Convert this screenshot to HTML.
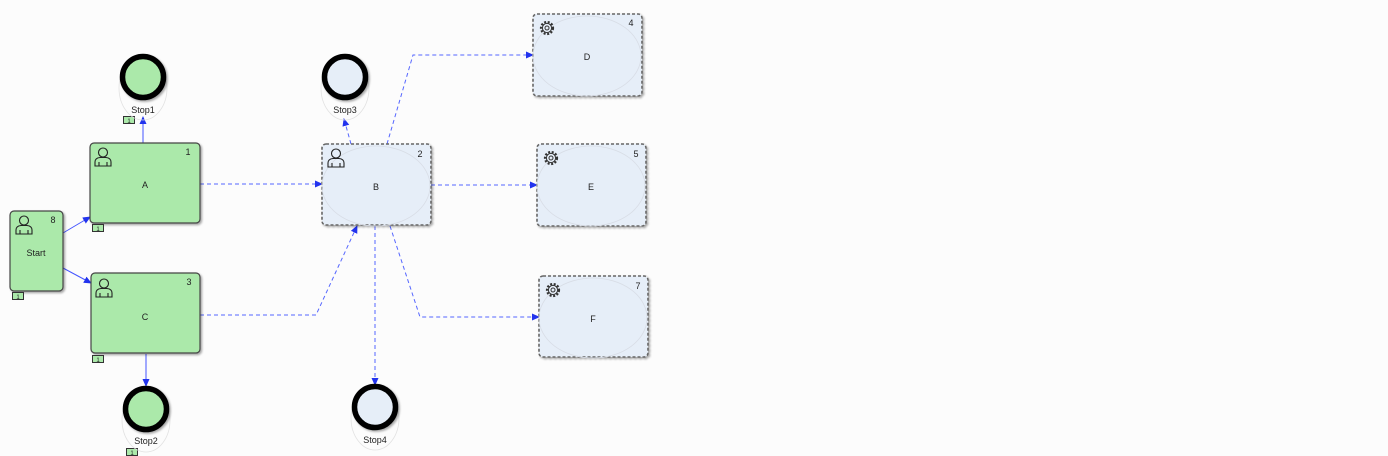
<!DOCTYPE html>
<html><head><meta charset="utf-8"><style>
html,body{margin:0;padding:0;background:#fcfcfc;}
svg{display:block;font-family:"Liberation Sans",sans-serif;}
</style></head><body>
<svg width="1388" height="456" viewBox="0 0 1388 456" xmlns="http://www.w3.org/2000/svg">
<defs>
<marker id="ar" markerWidth="8" markerHeight="8" refX="7" refY="4" orient="auto" markerUnits="userSpaceOnUse"><path d="M0,0.5 L8,4 L0,7.5 z" fill="#2233ee"/></marker>
<filter id="sh" x="-10%" y="-10%" width="130%" height="130%"><feDropShadow dx="1.5" dy="1.5" stdDeviation="1" flood-color="#000" flood-opacity="0.35"/></filter>
<g id="person" fill="none" stroke="#222" stroke-width="1.1">
<circle cx="9" cy="5.5" r="4.5"/>
<path d="M1,19 v-4 q0,-4 5,-4.5 h6 q5,0.5 5,4.5 v4 z"/>
<path d="M5,19 v-4 M13,19 v-4"/>
</g>
<g id="gear" fill="none" stroke="#333" stroke-width="1">
<circle cx="8" cy="8" r="6" stroke-dasharray="2 1.6" stroke-width="2.2"/>
<circle cx="8" cy="8" r="4.6"/>
<circle cx="8" cy="8" r="2"/>
</g>
</defs>

<g stroke="#4455ff" stroke-width="1" fill="none">
<line x1="143" y1="143" x2="143" y2="117" marker-end="url(#ar)"/>
<line x1="63" y1="233" x2="90" y2="217" marker-end="url(#ar)"/>
<line x1="63" y1="268" x2="91" y2="283" marker-end="url(#ar)"/>
<line x1="146" y1="354" x2="146" y2="386" marker-end="url(#ar)"/>
</g>
<g stroke="#5566ff" stroke-width="1" fill="none" stroke-dasharray="4 3">
<polyline points="200,184 322,184" marker-end="url(#ar)"/>
<polyline points="200,315 316,315 357,226" marker-end="url(#ar)"/>
<polyline points="351,144 344,119" marker-end="url(#ar)"/>
<polyline points="387,144 413,55 533,55" marker-end="url(#ar)"/>
<polyline points="431,185 537,185" marker-end="url(#ar)"/>
<polyline points="390,226 420,317 539,317" marker-end="url(#ar)"/>
<polyline points="375,226 375,385" marker-end="url(#ar)"/>
</g>

<g filter="url(#sh)" fill="#abe9aa" stroke="#444" stroke-width="1.2">
<rect x="10" y="211" width="53" height="80" rx="4"/>
<rect x="90" y="143" width="110" height="80" rx="4"/>
<rect x="91" y="273" width="109" height="80" rx="4"/>
</g>
<use href="#person" x="15" y="215"/>
<use href="#person" x="94" y="147"/>
<use href="#person" x="95" y="278"/>
<g font-size="9" fill="#222" text-anchor="middle">
<text x="53" y="223">8</text><text x="36" y="256">Start</text>
<text x="188" y="155">1</text><text x="145" y="188">A</text>
<text x="189" y="285">3</text><text x="145" y="320">C</text>
</g>
<g fill="#abe9aa" stroke="#333" stroke-width="1">
<rect x="12.5" y="292.5" width="11" height="7"/>
<rect x="92.5" y="224.5" width="11" height="7"/>
<rect x="92.5" y="355.5" width="11" height="7"/>
<rect x="123.5" y="116.5" width="11" height="7"/>
<rect x="126.5" y="448.5" width="11" height="7"/>
</g>
<g font-size="6" fill="#222" text-anchor="middle">
<text x="18" y="299">1</text><text x="98" y="231">1</text><text x="98" y="362">1</text><text x="129" y="123">1</text><text x="132" y="455">1</text>
</g>

<g fill="#e6eef8" stroke="#666" stroke-width="1.6" stroke-dasharray="3 2" filter="url(#sh)">
<rect x="322" y="144" width="109" height="81" rx="4"/>
<rect x="533" y="14" width="109" height="82" rx="4"/>
<rect x="537" y="144" width="109" height="82" rx="4"/>
<rect x="539" y="276" width="109" height="81" rx="4"/>
</g>
<g fill="none" stroke="#d8dde6" stroke-width="0.8">
<ellipse cx="376" cy="186" rx="54" ry="40"/>
<ellipse cx="587" cy="56" rx="54" ry="40"/>
<ellipse cx="591" cy="186" rx="54" ry="40"/>
<ellipse cx="593" cy="318" rx="54" ry="40"/>
</g>
<use href="#person" x="327" y="148"/>
<use href="#gear" x="539" y="20"/>
<use href="#gear" x="543" y="150"/>
<use href="#gear" x="545" y="282"/>
<g font-size="9" fill="#222" text-anchor="middle">
<text x="420" y="157">2</text><text x="376" y="190">B</text>
<text x="631" y="26">4</text><text x="587" y="60">D</text>
<text x="636" y="157">5</text><text x="591" y="190">E</text>
<text x="638" y="289">7</text><text x="593" y="322">F</text>
</g>

<g fill="none" stroke="#e2e2e2" stroke-width="0.8">
<ellipse cx="143" cy="88" rx="24" ry="32"/>
<ellipse cx="146" cy="420" rx="24" ry="32"/>
<ellipse cx="345" cy="88" rx="24" ry="32"/>
<ellipse cx="375" cy="418" rx="24" ry="32"/>
</g>
<g stroke="#000" stroke-width="5.5" filter="url(#sh)">
<circle cx="143" cy="77" r="20.5" fill="#abe9aa"/>
<circle cx="146" cy="409" r="20.5" fill="#abe9aa"/>
<circle cx="345" cy="77" r="20.5" fill="#e6eef8"/>
<circle cx="375" cy="407" r="20.5" fill="#e6eef8"/>
</g>
<g font-size="9" fill="#222" text-anchor="middle">
<text x="143" y="113">Stop1</text>
<text x="146" y="444">Stop2</text>
<text x="345" y="113">Stop3</text>
<text x="375" y="443">Stop4</text>
</g>
</svg>
</body></html>
